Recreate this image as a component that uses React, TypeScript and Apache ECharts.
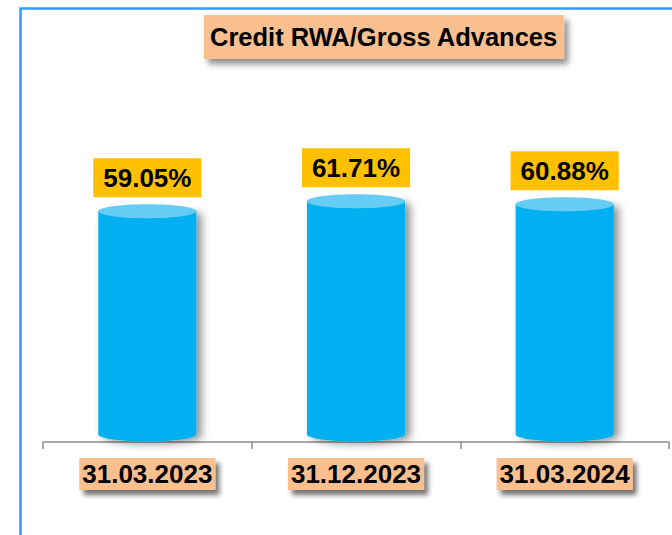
import React, { useEffect, useRef } from "react";
import * as echarts from "echarts";

const categories = ["31.03.2023", "31.12.2023", "31.03.2024"];
const values = [59.05, 61.71, 60.88];
const valueLabels = ["59.05%", "61.71%", "60.88%"];
const titleText = "Credit RWA/Gross Advances";

export default function App() {
  const ref = useRef<HTMLDivElement>(null);
  useEffect(() => {
    if (!ref.current) return;
    const chart = echarts.init(ref.current, undefined, { renderer: "svg" });
    const font = "'Liberation Sans', Arial, sans-serif";
    chart.setOption({
      animation: false,
      backgroundColor: "#ffffff",
      title: {
        text: titleText,
        left: 204,
        top: 15,
        padding: [7, 6, 7, 6],
        backgroundColor: "#F9BF8F",
        shadowColor: "rgba(0,0,0,0.45)",
        shadowBlur: 6,
        shadowOffsetX: 4,
        shadowOffsetY: 5,
        textStyle: {
          fontFamily: font,
          fontWeight: "bold",
          fontSize: 25.5,
          lineHeight: 30,
          color: "#000000",
        },
      },
      graphic: [
        {
          type: "polyline",
          shape: { points: [[20.5, 535], [20.5, 8.5], [672, 8.5]] },
          style: { stroke: "#3399FF", lineWidth: 2.5, fill: "none" },
          silent: true,
        },
      ],
      grid: { left: 43, right: 3, top: 132, bottom: 93, containLabel: false },
      xAxis: {
        type: "category",
        data: categories,
        boundaryGap: true,
        axisLine: {
          show: true,
          onZero: false,
          lineStyle: { color: "#8C8C8C", width: 1.5 },
        },
        axisTick: {
          show: true,
          alignWithLabel: false,
          length: 7,
          lineStyle: { color: "#8C8C8C", width: 1.5 },
        },
        axisLabel: {
          margin: 16,
          fontFamily: font,
          fontWeight: "bold",
          fontSize: 26,
          lineHeight: 30,
          color: "#000000",
          backgroundColor: "#F9BF8F",
          padding: [1, 3, 1, 3],
          shadowColor: "rgba(0,0,0,0.55)",
          shadowBlur: 5,
          shadowOffsetX: 4,
          shadowOffsetY: 5,
        },
        splitLine: { show: false },
      },
      yAxis: {
        type: "value",
        min: -2,
        max: 80,
        show: false,
        splitLine: { show: false },
      },
      series: [
        {
          type: "custom",
          data: values.map((v, i) => [i, v]),
          encode: { x: 0, y: 1 },
          renderItem: (params: any, api: any) => {
            const i = api.value(0);
            const v = api.value(1);
            const base = api.coord([i, 0]);
            const top = api.coord([i, v]);
            const w = api.size([1, 0])[0] * 0.47;
            const rx = w / 2;
            const ry = 7;
            const cx = base[0];
            const yb = base[1];
            const yt = top[1];
            const l = cx - rx;
            const r = cx + rx;
            const d = `M ${l} ${yt} L ${l} ${yb} A ${rx} ${ry} 0 0 0 ${r} ${yb} L ${r} ${yt} Z`;
            return {
              type: "group",
              children: [
                {
                  type: "path",
                  shape: { pathData: d, x: l, y: yt, width: w, height: yb - yt + ry },
                  style: {
                    fill: "#00B0F0",
                    shadowColor: "rgba(0,0,0,0.45)",
                    shadowBlur: 8,
                    shadowOffsetX: 5,
                    shadowOffsetY: 2,
                  },
                },
                {
                  type: "ellipse",
                  shape: { cx: cx, cy: yt, rx: rx, ry: ry },
                  style: { fill: "#66CCF4" },
                },
                {
                  type: "text",
                  x: cx,
                  y: yt - 14,
                  style: {
                    text: valueLabels[params.dataIndex],
                    align: "center",
                    verticalAlign: "bottom",
                    fontFamily: font,
                    fontWeight: "bold",
                    fontSize: 26,
                    lineHeight: 29,
                    fill: "#000000",
                    backgroundColor: "#FFC000",
                    padding: [5, 10, 5, 10],
                  },
                },
              ],
            };
          },
        },
      ],
    });
    return () => chart.dispose();
  }, []);
  return (
    <div
      ref={ref}
      style={{ position: "fixed", left: 0, top: 0, width: 672, height: 535 }}
    />
  );
}
